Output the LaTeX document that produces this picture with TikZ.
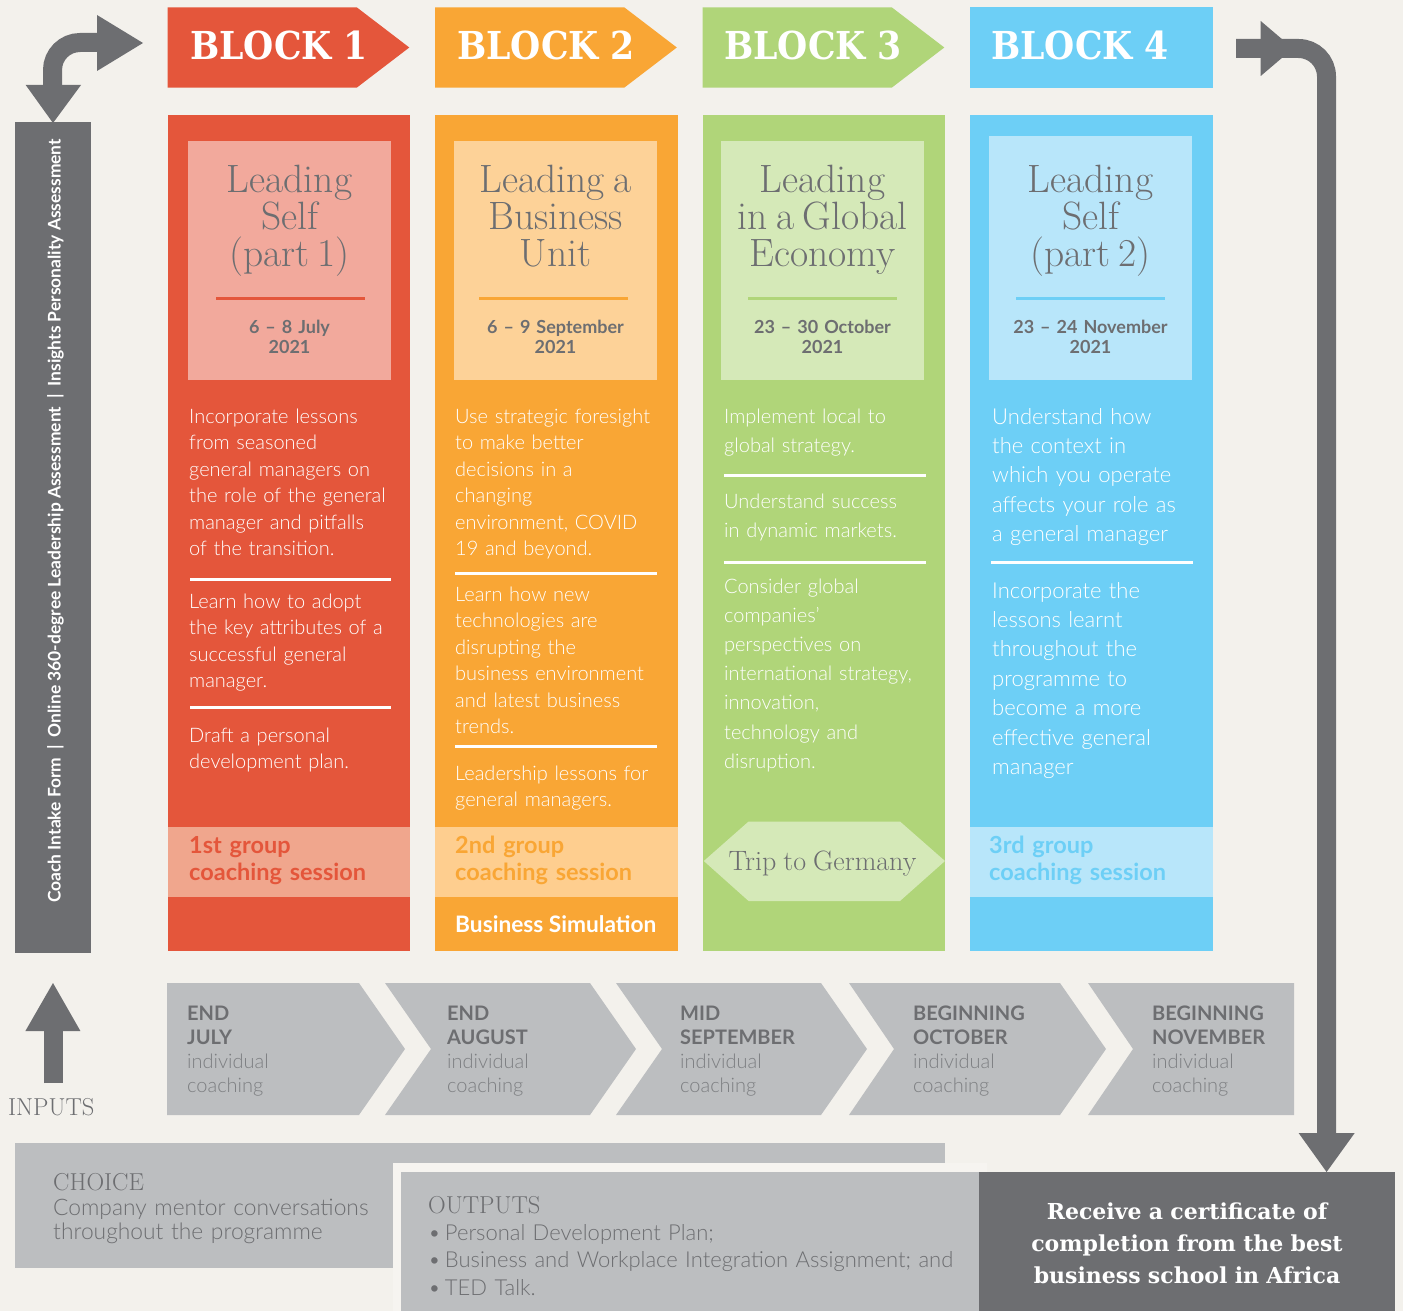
\documentclass[tikz,border=0pt]{standalone}
\usepackage{fontspec}
\newfontfamily\bodyfont{Lato Light}
\newfontfamily\boldsans{Lato Bold}
\newfontfamily\heavyserif{DejaVu Serif Condensed Bold}
\newfontfamily\heavyserifwide{DejaVu Serif Bold}
\definecolor{bg}{HTML}{F3F1EC}
\definecolor{bgL}{HTML}{F6F4F0}
\definecolor{cRed}{HTML}{E4563B}
\definecolor{cRedL}{HTML}{F2A99C}
\definecolor{cRedB}{HTML}{F0A68D}
\definecolor{cOra}{HTML}{F9A635}
\definecolor{cOraL}{HTML}{FDD298}
\definecolor{cOraB}{HTML}{FECE8F}
\definecolor{cGre}{HTML}{B0D579}
\definecolor{cGreL}{HTML}{D5E9B8}
\definecolor{cBlu}{HTML}{6DCFF6}
\definecolor{cBluL}{HTML}{B8E6FA}
\definecolor{cGry}{HTML}{6D6E71}
\definecolor{cGryL}{HTML}{BCBEC0}
\definecolor{cGryT}{HTML}{7D7F82}
\newcommand{\ts}{\hspace{8.5pt}}
\tikzset{
  box/.style={draw=none, inner sep=0, outer sep=0, anchor=north west},
  body/.style={anchor=base west, inner sep=0, text width=240, align=left, text=white,
    font=\bodyfont\fontsize{20}{26.5}\selectfont},
  ttl/.style={anchor=base, inner sep=0, text width=210, align=center, text=cGry,
    font=\fontsize{39.5}{36.7}\selectfont},
  datetxt/.style={anchor=base, inner sep=0, text width=210, align=center, text=cGry,
    font=\boldsans\fontsize{18}{20.3}\selectfont},
  hdr/.style={anchor=base west, inner sep=0, text=white, font=\heavyserif\fontsize{38.5}{40}\selectfont},
  grp/.style={anchor=base west, inner sep=0, text width=230, align=left,
    font=\boldsans\fontsize{23.5}{27}\selectfont},
  chev/.style={anchor=base west, inner sep=0, text width=200, align=left, text=cGry,
    font=\fontsize{20}{24}\selectfont},
  sep/.style={line width=3},
  bigarrow/.style={cGry, line width=19},
}
\newcommand{\chevtext}[2]{{\boldsans #1\\#2\\\bodyfont\color{cGryT}individual\\coaching}}
\newcommand{\bul}{•\kern4pt}
\begin{document}
\begin{tikzpicture}[x=1pt,y=-1pt]
\useasboundingbox (0,0) rectangle (1403,1311);
\fill[bg] (0,0) rectangle (1403,1311);

% ---------- left bar and arrow ----------
\node[box, fill=cGry, minimum width=76, minimum height=831] (bar) at (15,122) {};
\node[rotate=90, inner sep=0, text=white, font=\boldsans\fontsize{17.4}{18}\selectfont] (bartext) at (55.5,521)
  {Coach Intake Form\hspace{8pt}|\hspace{8pt}Online 360-degree Leadership Assessment\hspace{8pt}|\hspace{8pt}Insights Personality Assessment};
\coordinate (la1) at (52.5,86);
\coordinate (la2) at (98,42.5);
\draw[bigarrow, rounded corners=27.5] (la1) |- (la2);
\fill[cGry] (25.7,85) -- (81,85) -- (53,123) -- cycle;
\fill[cGry] (97,15) -- (97,71) -- (143,43) -- cycle;

% ---------- headers ----------
\fill[cRed] (167.5,7.3) -- (356.7,7.3) -- (409.3,47.5) -- (356.7,87.7) -- (167.5,87.7) -- cycle;
\fill[cOra] (435,7.3) -- (624.2,7.3) -- (676.8,47.5) -- (624.2,87.7) -- (435,87.7) -- cycle;
\fill[cGre] (702.5,7.3) -- (891.7,7.3) -- (944.3,47.5) -- (891.7,87.7) -- (702.5,87.7) -- cycle;
\node[box, fill=cBlu, minimum width=243, minimum height=80.4] (h4) at (970,7.3) {};
\node[hdr] (h1t) at (190,60) {BLOCK 1};
\node[hdr] (h2t) at (457,60) {BLOCK 2};
\node[hdr] (h3t) at (724,60) {BLOCK 3};
\node[hdr] (h4t) at (991,60) {BLOCK 4};

% ---------- block bodies ----------
\node[box, fill=cRed, minimum width=242.5, minimum height=836] (b1) at (167.5,115) {};
\node[box, fill=cOra, minimum width=242.5, minimum height=836] (b2) at (435,115) {};
\node[box, fill=cGre, minimum width=242.5, minimum height=836] (b3) at (702.5,115) {};
\node[box, fill=cBlu, minimum width=243, minimum height=836] (b4) at (970,115) {};

% title boxes
\node[box, fill=cRedL, minimum width=202.5, minimum height=238.5] (t1) at (188.3,141) {};
\node[box, fill=cOraL, minimum width=202.5, minimum height=238.5] (t2) at (454,141) {};
\node[box, fill=cGreL, minimum width=202.5, minimum height=238.5] (t3) at (721,141) {};
\node[box, fill=cBluL, minimum width=203, minimum height=243.5] (t4) at (989,136) {};

\node[ttl] (tt1) at (289.5,193) {Leading\\Self\\(part\ts 1)};
\node[ttl] (tt2) at (555.5,193) {Leading\ts a\\Business\\Unit};
\node[ttl] (tt3) at (822.5,193) {Leading\\in\ts a\ts Global\\Economy};
\node[ttl] (tt4) at (1090.5,193) {Leading\\Self\\(part\ts 2)};

\draw[sep, cRed] (216,298) -- (365,298);
\draw[sep, cOra] (479,298) -- (628,298);
\draw[sep, cGre] (748,298) -- (897,298);
\draw[sep, cBlu] (1016,298) -- (1165,298);

\node[datetxt] (d1) at (289.5,333) {6 – 8 July\\2021};
\node[datetxt] (d2) at (555.5,333) {6 – 9 September\\2021};
\node[datetxt] (d3) at (822.5,333) {23 – 30 October\\2021};
\node[datetxt] (d4) at (1090.5,333) {23 – 24 November\\2021};

% block 1 text
\node[body] (p11) at (189,423) {Incorporate lessons\\from seasoned\\general managers on\\the role of the general\\manager and pitfalls\\of the transition.};
\draw[sep, white] (190,579) -- (391,579);
\node[body] (p12) at (189,608) {Learn how to adopt\\the key attributes of a\\successful general\\manager.};
\draw[sep, white] (190,707) -- (391,707);
\node[body] (p13) at (189,742) {Draft a personal\\development plan.};

% block 2 text
\node[body] (p21) at (455,423) {Use strategic foresight\\to make better\\decisions in a\\changing\\environment, COVID\\19 and beyond.};
\draw[sep, white] (455,573) -- (657,573);
\node[body] (p22) at (455,601) {Learn how new\\technologies are\\disrupting the\\business environment\\and latest business\\trends.};
\draw[sep, white] (455,746) -- (657,746);
\node[body] (p23) at (455,780) {Leadership lessons for\\general managers.};

% block 3 text
\node[body, font=\bodyfont\fontsize{20}{29.2}\selectfont] (p31) at (724,423) {Implement local to\\global strategy.};
\draw[sep, white] (724,475) -- (926,475);
\node[body, font=\bodyfont\fontsize{20}{29.2}\selectfont] (p32) at (724,508) {Understand success\\in dynamic markets.};
\draw[sep, white] (724,562) -- (926,562);
\node[body, font=\bodyfont\fontsize{20}{29.2}\selectfont] (p33) at (724,593) {Consider global\\companies’\\perspectives on\\international strategy,\\innovation,\\technology and\\disruption.};

% block 4 text
\node[body, font=\bodyfont\fontsize{22}{29.4}\selectfont] (p41) at (992,424) {Understand how\\the context in\\which you operate\\affects your role as\\a general manager};
\draw[sep, white] (991,562) -- (1193,562);
\node[body, font=\bodyfont\fontsize{22}{29.4}\selectfont] (p42) at (992,598) {Incorporate the\\lessons learnt\\throughout the\\programme to\\become a more\\effective general\\manager};

% group coaching bands
\node[box, fill=cRedB, minimum width=242.5, minimum height=70] (g1) at (167.5,827) {};
\node[box, fill=cOraB, minimum width=242.5, minimum height=70] (g2) at (435,827) {};
\node[box, fill=cBluL, minimum width=243, minimum height=70] (g4) at (970,827) {};
\node[grp, text=cRed] (g1t) at (189,853) {1st group\\coaching session};
\node[grp, text=cOra] (g2t) at (455,853) {2nd group\\coaching session};
\node[grp, text=cBlu] (g4t) at (989,853) {3rd group\\coaching session};
\node[anchor=base west, inner sep=0, text=white, font=\boldsans\fontsize{22.7}{26}\selectfont] (sim) at (455,932) {Business Simulation};

% trip to Germany
\fill[cGreL] (703.8,861) -- (748.6,821.5) -- (900,821.5) -- (945,861) -- (900,901) -- (748.6,901) -- cycle;
\node[anchor=base, inner sep=0, text=cGry, font=\fontsize{28}{30}\selectfont] (trip) at (822.5,870) {Trip\hspace{7pt}to\hspace{7pt}Germany};

% ---------- right arrow ----------
\coordinate (ra1) at (1236,48.5);
\coordinate (ra2) at (1326.5,1134);
\draw[bigarrow, rounded corners=28] (ra1) -| (ra2);
\fill[cGry] (1260.7,21) -- (1260.7,76) -- (1293,48.5) -- cycle;
\fill[cGry] (1298.6,1133) -- (1354.7,1133) -- (1326.6,1172) -- cycle;

% ---------- coaching chevrons ----------
\fill[cGryL] (167,983) -- (359,983) -- (405,1049) -- (359,1115) -- (167,1115) -- cycle;
\fill[cGryL] (385,983) -- (590,983) -- (636,1049) -- (590,1115) -- (385,1115) -- (431,1049) -- cycle;
\fill[cGryL] (616,983) -- (821,983) -- (867,1049) -- (821,1115) -- (616,1115) -- (662,1049) -- cycle;
\fill[cGryL] (849,983) -- (1060,983) -- (1106,1049) -- (1060,1115) -- (849,1115) -- (894,1049) -- cycle;
\fill[cGryL] (1088,983) -- (1294,983) -- (1294,1115) -- (1088,1115) -- (1133,1049) -- cycle;
\node[chev] (c1) at (187,1020) {\chevtext{END}{JULY}};
\node[chev] (c2) at (447,1020) {\chevtext{END}{AUGUST}};
\node[chev] (c3) at (680,1020) {\chevtext{MID}{SEPTEMBER}};
\node[chev] (c4) at (913,1020) {\chevtext{BEGINNING}{OCTOBER}};
\node[chev] (c5) at (1152,1020) {\chevtext{BEGINNING}{NOVEMBER}};

% inputs arrow
\coordinate (ia1) at (53,1083);
\coordinate (ia2) at (53,1030);
\draw[bigarrow] (ia1) -- (ia2);
\fill[cGry] (25.4,1031) -- (80.4,1031) -- (53,983) -- cycle;
\node[anchor=base west, inner sep=0, text=cGry, font=\fontsize{24.5}{26}\selectfont] (inputs) at (8,1115) {INPUTS};

% ---------- bottom boxes ----------
\fill[cGryL] (15,1143) rectangle (945,1268);
\fill[bgL] (393,1163) rectangle (987,1311);
\node[box, fill=cGryL, minimum width=578, minimum height=139] (outbox) at (401,1172) {};
\node[box, fill=cGry, minimum width=416, minimum height=139] (cert) at (979,1172) {};

\node[anchor=base west, inner sep=0, text=cGry, font=\fontsize{24.5}{26}\selectfont] (choice) at (53,1190) {CHOICE};
\node[anchor=base west, inner sep=0, text width=340, align=left, text=cGry, font=\bodyfont\fontsize{22.8}{24}\selectfont] (choicet) at (53,1215) {Company mentor conversations\\throughout the programme};

\node[anchor=base west, inner sep=0, text=cGry, font=\fontsize{24.5}{26}\selectfont] (outputs) at (428,1213) {OUTPUTS};
\node[anchor=base west, inner sep=0, text width=545, align=left, text=cGry, font=\bodyfont\fontsize{22}{27.5}\selectfont] (outputst) at (428,1240) {\bul Personal Development Plan;\\\bul Business and Workplace Integration Assignment; and\\\bul TED Talk.};

\node[anchor=base, inner sep=0, text width=410, align=center, text=white, font=\heavyserifwide\fontsize{22}{32}\selectfont] (certt) at (1187,1219) {Receive a certificate of\\completion from the best\\business school in Africa};
\end{tikzpicture}
\end{document}
